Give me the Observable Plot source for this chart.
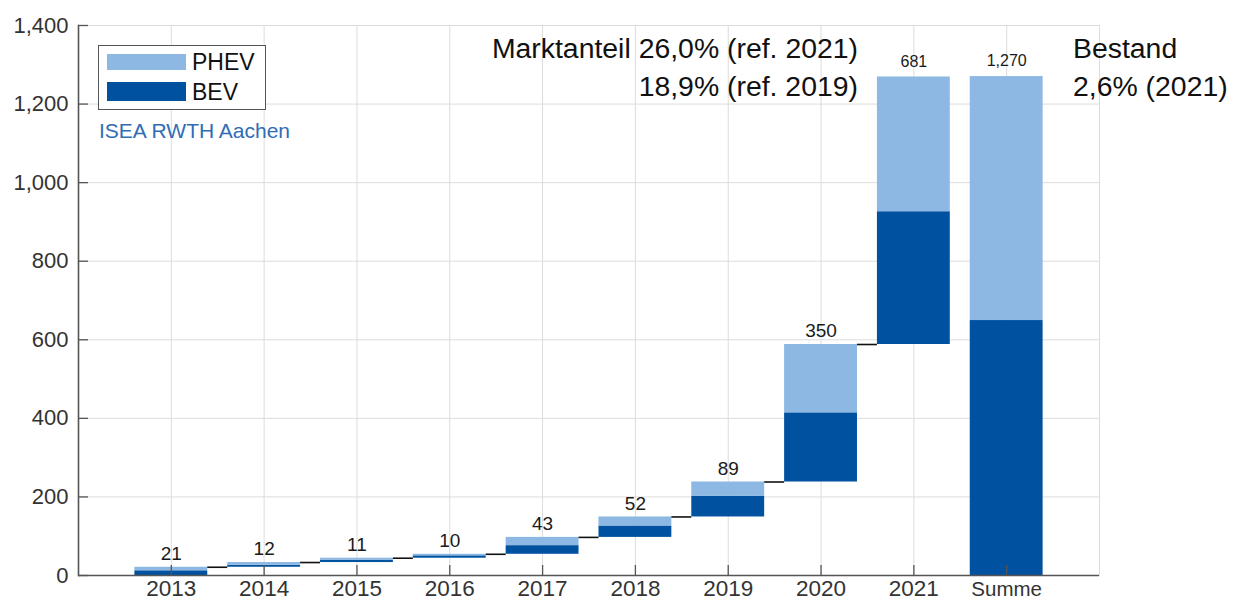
<!DOCTYPE html>
<html>
<head>
<meta charset="utf-8">
<script src="https://cdn.jsdelivr.net/npm/d3@7"></script>
<script src="https://cdn.jsdelivr.net/npm/@observablehq/plot@0.6"></script>
<style>
  html, body { margin: 0; padding: 0; background: #fff; }
  body { font-family: "Liberation Sans", Arial, sans-serif; }
  #wrap { position: relative; width: 1236px; height: 606px; overflow: hidden; }
  #wrap svg { position: absolute; left: 0; top: 0; }
  .legend { position: absolute; left: 98px; top: 45px; width: 168px; height: 65px; border: 1.5px solid #555; background: #fff; box-sizing: border-box; }
  .legend .sw { position: absolute; left: 8px; width: 79px; }
  .legend .lab { position: absolute; left: 93px; font-size: 23px; line-height: 23px; color: #111; }
  .source { position: absolute; left: 99px; top: 119px; font-size: 21px; color: #2f6db5; white-space: nowrap; }
  .note { position: absolute; font-size: 28.4px; line-height: 37.5px; color: #111; white-space: nowrap; }
</style>
</head>
<body>
<div id="wrap"></div>
<script>
// ---- data (thousand vehicles, new registrations per year) ----
const categories = ["2013", "2014", "2015", "2016", "2017", "2018", "2019", "2020", "2021", "Summe"];
const years = ["2013", "2014", "2015", "2016", "2017", "2018", "2019", "2020", "2021"];
const bevNew  = [12, 5, 6, 6, 22, 29, 53, 176, 338];
const phevNew = [9, 7, 5, 4, 21, 23, 36, 174, 343];
const stepLabels = ["21", "12", "11", "10", "43", "52", "89", "350", "681"];
const sumBEV = 649;
const sumPHEV = 621;
const sumLabel = "1,270";
const yTicks = [0, 200, 400, 600, 800, 1000, 1200, 1400];
const seriesNames = ["PHEV", "BEV"];
const seriesColors = ["#8db8e3", "#0052a0"];

// ---- derived tables ----
const segs = [];
const tops = [];
const connectors = [];
let base = 0;
years.forEach((yr, i) => {
  segs.push({cat: yr, type: "BEV", y1: base, y2: base + bevNew[i]});
  segs.push({cat: yr, type: "PHEV", y1: base + bevNew[i], y2: base + bevNew[i] + phevNew[i]});
  base += bevNew[i] + phevNew[i];
  tops.push({cat: yr, top: base, label: stepLabels[i], big: i < years.length - 1});
  if (i < years.length - 1) connectors.push({cat: yr, level: base});
});
segs.push({cat: "Summe", type: "BEV", y1: 0, y2: sumBEV});
segs.push({cat: "Summe", type: "PHEV", y1: sumBEV, y2: sumBEV + sumPHEV});
tops.push({cat: "Summe", top: sumBEV + sumPHEV, label: sumLabel, big: false});

// ---- layout ----
const W = 1236, H = 606;
const mL = 78, mR = 137, mT = 25, mB = 31;
const plotW = W - mL - mR, plotH = H - mT - mB;
const padInner = 0.215;
const padOuter = 0.5 + padInner / 2;
const step = plotW / (categories.length - padInner + 2 * padOuter);
const bw = step * (1 - padInner);
const gap = step * padInner;
const tickLen = 10;

const chart = Plot.plot({
  width: W,
  height: H,
  marginLeft: mL,
  marginRight: mR,
  marginTop: mT,
  marginBottom: mB,
  style: {fontFamily: "'Liberation Sans', Arial, sans-serif", background: "transparent", overflow: "visible"},
  x: {type: "band", domain: categories, paddingInner: padInner, paddingOuter: padOuter, align: 0.5, round: false, axis: null},
  y: {domain: [0, 1400], axis: null},
  color: {domain: seriesNames, range: seriesColors},
  marks: [
    Plot.gridY(yTicks, {stroke: "#dcdcdc", strokeOpacity: 1, strokeWidth: 1}),
    Plot.gridX(categories, {stroke: "#dcdcdc", strokeOpacity: 1, strokeWidth: 1}),
    Plot.frame({stroke: "#dcdcdc", strokeWidth: 1}),
    Plot.rectY(segs, {x: "cat", y1: "y1", y2: "y2", fill: "type"}),
    Plot.tickY(connectors, {x: "cat", y: "level", dx: step / 2, insetLeft: (bw - gap) / 2, insetRight: (bw - gap) / 2, stroke: "#111", strokeWidth: 1.6}),
    Plot.text(tops.filter(d => d.big), {x: "cat", y: "top", text: "label", dy: -13.5, fontSize: 19, fill: "#1a1a1a"}),
    Plot.text(tops.filter(d => !d.big), {x: "cat", y: "top", text: "label", dy: -15.5, fontSize: 16, fill: "#1a1a1a"}),
    // inward tick marks
    Plot.tickY(yTicks, {y: d => d, insetRight: plotW - tickLen, stroke: "#555", strokeWidth: 1.3}),
    Plot.tickX(categories, {x: d => d, insetTop: plotH - tickLen, stroke: "#555", strokeWidth: 1.3}),
    // axis lines
    Plot.ruleY([0], {stroke: "#555", strokeWidth: 1.6}),
    Plot.frame({anchor: "left", stroke: "#555", strokeWidth: 1.6}),
    // tick labels
    Plot.text(yTicks, {y: d => d, frameAnchor: "left", textAnchor: "end", dx: -10, text: d => d3.format(",")(d), fontSize: 22, fill: "#333"}),
    Plot.text(categories, {x: d => d, frameAnchor: "bottom", dy: 20.5, text: d => d, fontSize: d => (d === "Summe" ? 20.5 : 22.5), fill: "#333"})
  ]
});

const wrap = document.getElementById("wrap");
wrap.appendChild(chart);

// legend
const legend = document.createElement("div");
legend.className = "legend";
const legendRows = [{name: "PHEV", top: 8, h: 16}, {name: "BEV", top: 36, h: 19}];
legendRows.forEach(r => {
  const sw = document.createElement("div");
  sw.className = "sw";
  sw.style.top = r.top + "px";
  sw.style.height = r.h + "px";
  sw.style.background = seriesColors[seriesNames.indexOf(r.name)];
  legend.appendChild(sw);
  const lb = document.createElement("div");
  lb.className = "lab";
  lb.style.top = (r.top - 3 + (r.h - 16) / 2) + "px";
  lb.textContent = r.name;
  legend.appendChild(lb);
});
wrap.appendChild(legend);

const src = document.createElement("div");
src.className = "source";
src.textContent = "ISEA RWTH Aachen";
wrap.appendChild(src);

const noteL = document.createElement("div");
noteL.className = "note";
noteL.style.right = (W - 858) + "px";
noteL.style.top = "30px";
noteL.style.textAlign = "right";
noteL.innerHTML = "Marktanteil 26,0% (ref. 2021)<br>18,9% (ref. 2019)";
wrap.appendChild(noteL);

const noteR = document.createElement("div");
noteR.className = "note";
noteR.style.left = "1073px";
noteR.style.top = "30px";
noteR.innerHTML = "Bestand<br>2,6% (2021)";
wrap.appendChild(noteR);
</script>
</body>
</html>
